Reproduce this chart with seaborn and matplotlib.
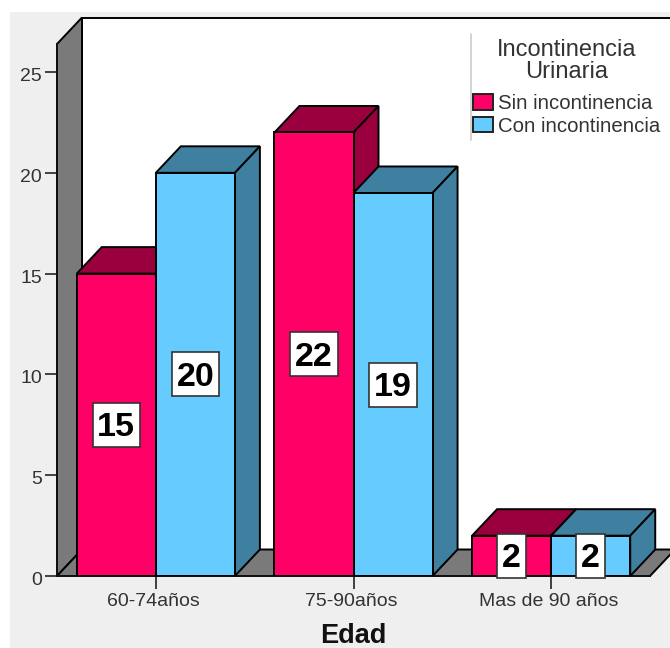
import matplotlib
matplotlib.use("Agg")
import matplotlib.pyplot as plt
import pandas as pd
import seaborn as sns
from matplotlib.lines import Line2D
from matplotlib.patches import Patch, Polygon, Rectangle
from matplotlib.path import Path
from matplotlib.transforms import ScaledTranslation

edades = ["60-74años", "75-90años", "Mas de 90 años"]
sin_incontinencia = [15, 22, 2]
con_incontinencia = [20, 19, 2]
grupos = ["Sin incontinencia", "Con incontinencia"]
colores_frente = ["#FF0066", "#66CCFF"]
colores_sombra = ["#99003D", "#3F7FA0"]
PARED = "#7A7A7A"
FONDO = "#EFEFEF"
TEXTO = "#333333"

W, H = 670, 648
sns.set_theme(style="white")
plt.rcParams["font.family"] = ["Liberation Sans", "DejaVu Sans"]

tabla = pd.DataFrame({
    "Edad": edades * 2,
    "Recuento": sin_incontinencia + con_incontinencia,
    "Incontinencia": [grupos[0]] * 3 + [grupos[1]] * 3,
})

fig = plt.figure(figsize=(W / 100, H / 100), dpi=100, facecolor="white")
fig.add_artist(Rectangle((10 / W, 0), 1, 1 - 12 / H, transform=fig.transFigure,
                         facecolor=FONDO, edgecolor="none", zorder=-5))

# Front plane of the 3D box, in pixel-derived figure fractions
ax = fig.add_axes([57 / W, 1 - 576 / H, 593 / W, 532 / H], facecolor="none")
sns.barplot(data=tabla, x="Edad", y="Recuento", hue="Incontinencia",
            order=edades, hue_order=grupos, palette=colores_frente,
            width=0.8, gap=0, saturation=1, dodge=True, legend=False,
            edgecolor="black", linewidth=1.4, ax=ax)
ax.set_xlim(-0.5, 2.5)
ymax = 26.39
ax.set_ylim(0, ymax)

# Depth of the extrusion in data units
dx = 25 / 197.67
dy = 26.5 / 20.16
x0, x1 = ax.get_xlim()


def poligono(puntos, color, z, lw=1.4):
    ax.add_patch(Polygon(puntos, closed=True, facecolor=color, edgecolor="black",
                         linewidth=lw, clip_on=False, zorder=z, joinstyle="miter"))


def caja_etiqueta(x, y, ancho, alto, escala):
    # Value box: narrow side padding, taller vertical padding, raised so digits sit centred
    px, py, subida = 0.14 * escala, 0.19 * escala, 0.08 * escala
    izq, der = x - px, x + ancho + px
    abajo, arriba = y - py + subida, y + alto + py + subida
    return Path([(izq, abajo), (der, abajo), (der, arriba), (izq, arriba), (izq, abajo)],
                closed=True)


# Back wall, side wall and floor
poligono([(x0 + dx, dy), (x1 + dx, dy), (x1 + dx, ymax + dy), (x0 + dx, ymax + dy)], "white", 0.5)
poligono([(x0, 0), (x0 + dx, dy), (x0 + dx, ymax + dy), (x0, ymax)], PARED, 0.6)
poligono([(x0, 0), (x1, 0), (x1 + dx, dy), (x0 + dx, dy)], PARED, 0.7)

# Each bar gets a top and a side face; series 0 sits behind series 1
barras = [p for p in ax.patches if isinstance(p, Rectangle) and p.get_height() > 0]
barras = sorted(barras, key=lambda p: p.get_x())
for i, barra in enumerate(barras):
    serie = i % 2
    izq, ancho, alto = barra.get_x(), barra.get_width(), barra.get_height()
    der = izq + ancho
    z = 2 + i
    barra.set_zorder(z + 0.2)
    sombra = colores_sombra[serie]
    poligono([(izq, alto), (der, alto), (der + dx, alto + dy), (izq + dx, alto + dy)], sombra, z)
    poligono([(der, 0), (der + dx, dy), (der + dx, alto + dy), (der, alto)], sombra, z + 0.1)
    ax.annotate(f"{alto:.0f}", xy=(izq + ancho / 2, alto / 2), xytext=(0, -2),
                textcoords="offset points", ha="center", va="center",
                fontsize=24.5, fontweight="bold", color="black", zorder=30,
                bbox=dict(boxstyle=caja_etiqueta, facecolor="white",
                          edgecolor="#333333", linewidth=1.2))

# Axes and ticks
sns.despine(ax=ax, top=True, right=True, left=False, bottom=False)
for lado in ("left", "bottom"):
    ax.spines[lado].set_color("#111111")
    ax.spines[lado].set_linewidth(1.4)
    ax.spines[lado].set_zorder(1)
ax.set_yticks([0, 5, 10, 15, 20, 25])
ax.tick_params(axis="y", length=9, width=1.2, color="#222222", labelcolor=TEXTO,
               labelsize=14, left=True, pad=1)
ax.tick_params(axis="x", length=9, width=1.2, color="#222222", labelcolor=TEXTO,
               labelsize=14, bottom=True, pad=3)
for rotulo in ax.get_xticklabels():
    rotulo.set_transform(rotulo.get_transform()
                         + ScaledTranslation(-2 / 100, 0, fig.dpi_scale_trans))
for rotulo in ax.get_yticklabels():
    rotulo.set_transform(rotulo.get_transform()
                         + ScaledTranslation(-1 / 100, -2.5 / 100, fig.dpi_scale_trans))
ax.set_ylabel("")
ax.set_xlabel("Edad", fontsize=19.5, fontweight="bold", color="#111111", labelpad=9.5)

# Legend with a thin rule on its left
ley = ax.legend(handles=[Patch(facecolor=c, edgecolor="#222222", linewidth=1.4, label=g)
                         for c, g in zip(colores_frente, grupos)],
                title="Incontinencia\nUrinaria", frameon=False, loc="upper left",
                bbox_to_anchor=(467 / W, 1 - 33 / H), bbox_transform=fig.transFigure,
                fontsize=14.7, title_fontsize=17, handlelength=0.99, handleheight=0.8,
                handletextpad=0.25, labelspacing=0.17, borderpad=0.3, borderaxespad=0)
ley._legend_box.sep = 8
ley.get_title().set_color(TEXTO)
ley.get_title().set_multialignment("center")
ley.get_title().set_linespacing(1.0)
for t in ley.get_texts():
    t.set_color(TEXTO)
ley.set_zorder(40)
fig.add_artist(Line2D([471 / W, 471 / W], [1 - 34 / H, 1 - 140 / H], color="#CCCCCC", linewidth=1.2))

fig.savefig("out.png", dpi=100, facecolor=fig.get_facecolor())
